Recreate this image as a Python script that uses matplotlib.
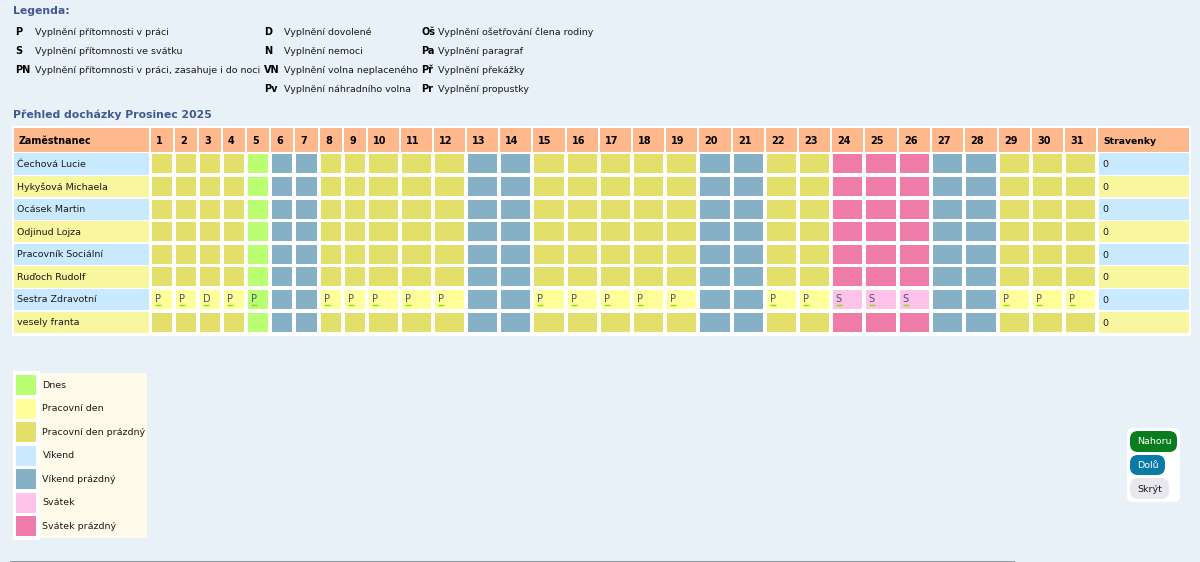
import matplotlib
matplotlib.use('Agg')
import matplotlib.pyplot as plt
from matplotlib.patches import Rectangle, FancyBboxPatch

# table content
employees = ['Čechová Lucie', 'Hykyšová Michaela', 'Ocásek Martin', 'Odjinud Lojza',
             'Pracovník Sociální', 'Ruďoch Rudolf', 'Sestra Zdravotní', 'vesely franta']
stravenky = [0, 0, 0, 0, 0, 0, 0, 0]
days = list(range(1, 32))
dayTypes = ['W', 'W', 'W', 'W', 'T', 'V', 'V', 'W', 'W', 'W', 'W', 'W', 'V', 'V', 'W', 'W',
            'W', 'W', 'W', 'V', 'V', 'W', 'W', 'H', 'H', 'H', 'V', 'V', 'W', 'W', 'W']
sestraCodes = ['P', 'P', 'D', 'P', 'P', '', '', 'P', 'P', 'P', 'P', 'P', '', '', 'P', 'P',
               'P', 'P', 'P', '', '', 'P', 'P', 'S', 'S', 'S', '', '', 'P', 'P', 'P']
filledRow = 'Sestra Zdravotní'

legendCol1 = [('P', 'Vyplnění přítomnosti v práci'), ('S', 'Vyplnění přítomnosti ve svátku'),
              ('PN', 'Vyplnění přítomnosti v práci, zasahuje i do noci')]
legendCol2 = [('D', 'Vyplnění dovolené'), ('N', 'Vyplnění nemoci'),
              ('VN', 'Vyplnění volna neplaceného'), ('Pv', 'Vyplnění náhradního volna')]
legendCol3 = [('Oš', 'Vyplnění ošetřování člena rodiny'), ('Pa', 'Vyplnění paragraf'),
              ('Př', 'Vyplnění překážky'), ('Pr', 'Vyplnění propustky')]
colorNames = ['Dnes', 'Pracovní den', 'Pracovní den prázdný', 'Víkend', 'Víkend prázdný',
              'Svátek', 'Svátek prázdný']

# colours
BG = '#e8f0f8'
HEADER = '#ffb88c'
TITLE = '#41598f'
filledColor = {'W': '#ffff99', 'T': '#baff72', 'V': '#c9e9ff', 'H': '#ffc2e8'}
emptyColor = {'W': '#e2df6b', 'T': '#baff72', 'V': '#85b0c5', 'H': '#ee7ba8'}
swatches = ['#baff72', '#ffff99', '#e2df6b', '#c9e9ff', '#85b0c5', '#ffc2e8', '#ee7ba8']
rowColors = ['#c9e9ff', '#f9f6a0']

FONT = 'DejaVu Sans'
SMALL = 6.8

# layout, in pixels of the screenshot
dayEdges = [151, 175, 199, 223, 247, 271, 295, 320, 344, 368, 401, 434, 467, 500, 533, 567,
            600, 633, 666, 699, 733, 766, 799, 832, 865, 899, 932, 965, 999, 1032, 1065]
dayEnd = 1097
rowTop = 153.3
rowPitch = 22.6


def box(ax, x0, y0, x1, y1, color, edge='none', z=1):
	ax.add_patch(Rectangle((x0, y0), x1 - x0, y1 - y0, facecolor=color, edgecolor=edge, linewidth=0.8, zorder=z))


def pill(ax, x0, y0, x1, y1, color, radius):
	ax.add_patch(FancyBboxPatch((x0 + radius, y0 + radius), x1 - x0 - 2 * radius, y1 - y0 - 2 * radius,
		boxstyle='round,pad=%f,rounding_size=%f' % (radius, radius), facecolor=color, edgecolor='none', zorder=2))


def label(ax, x, y, s, size=SMALL, weight='normal', color='#1a1a1a', ha='left'):
	ax.text(x, y, s, fontsize=size, fontweight=weight, color=color, ha=ha, va='center', family=FONT, zorder=5)


def draw_legend_text(ax, entries, xCode, xText):
	for i, (code, text) in enumerate(entries):
		y = 32.3 + i * 18.9
		label(ax, xCode, y, code, size=7, weight='bold', color='black')
		label(ax, xText, y, text)


def draw_table(ax):
	box(ax, 12, 126, 1191, 335.5, 'white', z=0)
	box(ax, 14, 128, 149, 151.5, HEADER)
	label(ax, 19, 141, 'Zaměstnanec', size=6.9, weight='bold', color='black')
	edges = dayEdges + [dayEnd + 1]
	for i, day in enumerate(days):
		box(ax, edges[i], 128, edges[i + 1] - 2, 151.5, HEADER)
		label(ax, edges[i] + 5, 140.5, str(day), size=7, weight='bold', color='black')
	box(ax, 1098, 128, 1189, 151.5, HEADER)
	label(ax, 1103, 141, 'Stravenky', size=6.7, weight='bold', color='black')

	for r, name in enumerate(employees):
		top = rowTop + r * rowPitch
		rowColor = rowColors[r % 2]
		box(ax, 14, top, 149, top + rowPitch - 1.3, rowColor)
		label(ax, 17, top + 11, name)
		box(ax, 1099, top, 1189, top + rowPitch - 1.3, rowColor)
		label(ax, 1102, top + 11.5, str(stravenky[r]))
		for i, kind in enumerate(dayTypes):
			filled = name == filledRow and sestraCodes[i] != ''
			color = filledColor[kind] if filled else emptyColor[kind]
			box(ax, edges[i] + 1, top + 1, edges[i + 1] - 3, top + rowPitch - 2.6, color)
			if filled:
				x = edges[i] + 3.8
				label(ax, x, top + 10.5, sestraCodes[i], size=7, color='#44546e')
				ax.plot([x, x + 6], [top + 16.4, top + 16.4], color='#86e010', lw=1.0, zorder=6, solid_capstyle='butt')


def draw_colors(ax):
	box(ax, 13, 373, 146.5, 538, '#fffbea', z=0)
	box(ax, 13, 371, 40, 540, 'white', z=1)
	for i, (name, color) in enumerate(zip(colorNames, swatches)):
		top = 375 + i * 23.53
		box(ax, 16, top, 36, top + 20, color, z=2)
		label(ax, 42.5, top + 10, name)


def draw_buttons(ax):
	pill(ax, 1127, 428, 1180, 502, 'white', 6)
	pill(ax, 1130, 431, 1177, 452, '#0a7d1e', 8)
	pill(ax, 1130, 455, 1165, 475, '#0a7aa6', 8)
	pill(ax, 1130, 478, 1169, 499, '#e8e8ee', 8)
	label(ax, 1137.5, 441.5, 'Nahoru', color='white')
	label(ax, 1137.5, 465, 'Dolů', color='white')
	label(ax, 1137.5, 489, 'Skrýt')


fig = plt.figure(figsize=(12, 5.62), dpi=100, facecolor=BG)
ax = fig.add_axes([0, 0, 1, 1])
ax.set_xlim(0, 1200)
ax.set_ylim(562, 0)
ax.axis('off')

label(ax, 13, 11, 'Legenda:', size=7.8, weight='bold', color=TITLE)
draw_legend_text(ax, legendCol1, 15, 35)
draw_legend_text(ax, legendCol2, 264, 284)
draw_legend_text(ax, legendCol3, 421, 438.5)
label(ax, 13, 114.5, 'Přehled docházky Prosinec 2025', size=7.8, weight='bold', color=TITLE)

draw_table(ax)
draw_colors(ax)
draw_buttons(ax)

ax.plot([10, 1015], [561.5, 561.5], color='#808890', lw=1.2, solid_capstyle='butt')

fig.savefig('out.png', dpi=100, facecolor=BG)
